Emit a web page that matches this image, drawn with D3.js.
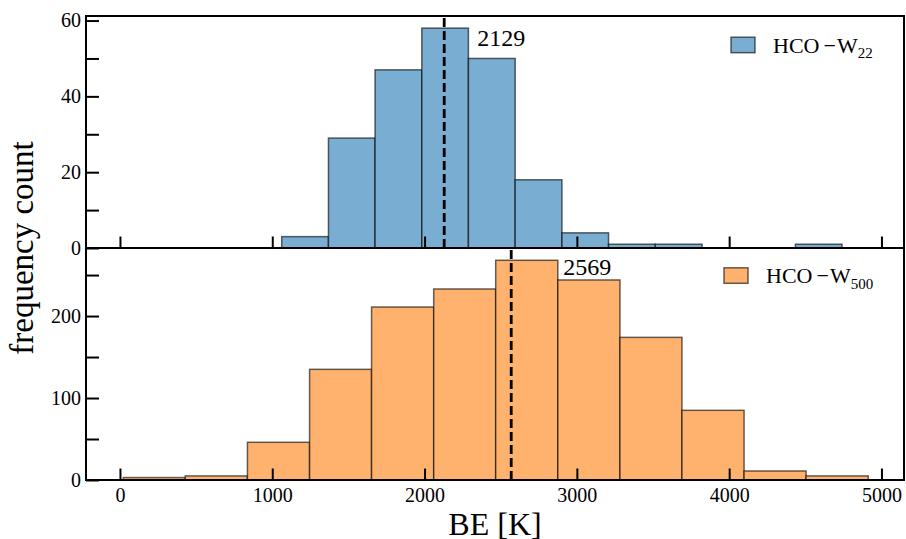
<!DOCTYPE html>
<html>
<head>
<meta charset="utf-8">
<script src="https://cdn.jsdelivr.net/npm/d3@7"></script>
<style>
	body { margin: 0; background: white; }
	svg text { font-family: "Liberation Serif", "Times New Roman", serif; fill: black; }
</style>
</head>
<body>
<script>
// --- data ---
var edgesW22 = [1062, 1369, 1675, 1982, 2288, 2595, 2902, 3208, 3515, 3822, 4128, 4435, 4741];
var countsW22 = [3, 29, 47, 58, 50, 18, 4, 1, 1, 0, 0, 1];
var meanW22 = 2129;

var edgesW500 = [22, 429, 837, 1245, 1652, 2060, 2467, 2875, 3283, 3690, 4098, 4505, 4913];
var countsW500 = [3, 5, 46, 135, 211, 233, 268, 244, 174, 85, 11, 5];
var meanW500 = 2569;

var xTicks = [0, 1000, 2000, 3000, 4000, 5000];
var yTicksTop = [0, 20, 40, 60];
var yMinorTop = [10, 30, 50];
var yTicksBot = [0, 100, 200];
var yMinorBot = [50, 150, 250];

var w = 906, h = 539;
// plot box (window.top is read-only, so no "top" here)
var padL = 86, padR = 904, padT = 16, padM = 248, padB = 480;
var serif = "Liberation Serif";

var svg = d3.select("body")
		.append("svg")
		.attr("width", w)
		.attr("height", h);

var x = d3.scaleLinear().domain([-223, 5148]).range([padL, padR]);

function drawPanel(p) {
	var y = d3.scaleLinear().domain(p.domain).range([p.y1, p.y0]);
	var g = svg.append("g");

	var bins = p.counts.map(function(c, i) {
		return { x0: p.edges[i], x1: p.edges[i + 1], n: c };
	}).filter(function(d) { return d.n > 0; });

	g.selectAll("rect.bar")
		.data(bins)
		.enter()
		.append("rect")
		.attr("class", "bar")
		.attr("x", function(d) { return x(d.x0); })
		.attr("y", function(d) { return y(d.n); })
		.attr("width", function(d) { return x(d.x1) - x(d.x0); })
		.attr("height", function(d) { return y(0) - y(d.n); })
		.attr("fill", p.fill)
		.attr("stroke", "black")
		.attr("stroke-opacity", 0.6)
		.attr("stroke-width", 1.5);

	// mean line, dashes start at the bottom like matplotlib axvline
	g.append("line")
		.attr("x1", x(p.mean)).attr("x2", x(p.mean))
		.attr("y1", p.y1).attr("y2", p.y0)
		.attr("stroke", "black")
		.attr("stroke-width", 2.8)
		.attr("stroke-dasharray", "9,4");

	g.append("text")
		.attr("x", x(p.labelX))
		.attr("y", y(p.labelY))
		.attr("font-family", serif)
		.attr("font-size", 24)
		.text(p.mean);

	// y axis, ticks inward
	var yAxis = d3.axisLeft(y).tickValues(p.yTicks).tickSize(-13).tickPadding(5).tickFormat(d3.format("d"));
	var ya = g.append("g").attr("transform", "translate(" + padL + ",0)").call(yAxis);
	var yMinor = d3.axisLeft(y).tickValues(p.yMinor).tickSize(-13).tickFormat("");
	var ym = g.append("g").attr("transform", "translate(" + padL + ",0)").call(yMinor);

	// x axis at the panel bottom, ticks inward
	var xAxis = d3.axisBottom(x).tickValues(xTicks).tickSize(-11.5).tickPadding(7).tickFormat(p.showX ? d3.format("d") : "");
	var xa = g.append("g").attr("transform", "translate(0," + p.y1 + ")").call(xAxis);

	[ya, ym, xa].forEach(function(a) {
		a.attr("font-family", serif);
		a.select(".domain").remove();
		a.selectAll(".tick line").attr("stroke", "black").attr("stroke-width", 2);
		a.selectAll(".tick text").attr("font-size", 20).attr("fill", "black");
	});
	xa.selectAll(".tick text").attr("dy", null).attr("y", 22);

	// legend
	g.append("rect")
		.attr("x", p.legX - 42).attr("y", p.legY - 15.5)
		.attr("width", 24).attr("height", 15.5)
		.attr("fill", p.fill)
		.attr("stroke", "black")
		.attr("stroke-opacity", 0.6)
		.attr("stroke-width", 1.5);
	var lt = g.append("text")
		.attr("x", p.legX)
		.attr("y", p.legY)
		.attr("font-family", serif)
		.attr("font-size", 22);
	lt.append("tspan").text("HCO");
	lt.append("tspan").attr("dx", 4).text("\u2212");
	lt.append("tspan").attr("dx", 1).text("W");
	lt.append("tspan").attr("dy", 5.5).attr("font-size", 15).text(p.sub);
}

drawPanel({
	edges: edgesW22, counts: countsW22, mean: meanW22,
	domain: [0, 61.2], y0: padT, y1: padM,
	yTicks: yTicksTop, yMinor: yMinorTop,
	fill: "#79add2", labelX: 2346, labelY: 53.3,
	legX: 773, legY: 52.7, sub: "22", showX: false
});

drawPanel({
	edges: edgesW500, counts: countsW500, mean: meanW500,
	domain: [0, 283], y0: padM, y1: padB,
	yTicks: yTicksBot, yMinor: yMinorBot,
	fill: "#ffb26e", labelX: 2910, labelY: 250,
	legX: 766, legY: 283.3, sub: "500", showX: true
});

// frames
svg.append("rect")
	.attr("x", padL).attr("y", padT)
	.attr("width", padR - padL).attr("height", padB - padT)
	.attr("fill", "none").attr("stroke", "black").attr("stroke-width", 2);
svg.append("line")
	.attr("x1", padL).attr("x2", padR)
	.attr("y1", padM).attr("y2", padM)
	.attr("stroke", "black").attr("stroke-width", 2);

// axis labels
svg.append("text")
	.attr("transform", "translate(33," + (padT + padB) / 2 + ") rotate(-90)")
	.attr("text-anchor", "middle")
	.attr("font-family", serif)
	.attr("font-size", 33)
	.text("frequency count");
svg.append("text")
	.attr("x", (padL + padR) / 2)
	.attr("y", 535)
	.attr("text-anchor", "middle")
	.attr("font-family", serif)
	.attr("font-size", 32)
	.text("BE [K]");
</script>
</body>
</html>
